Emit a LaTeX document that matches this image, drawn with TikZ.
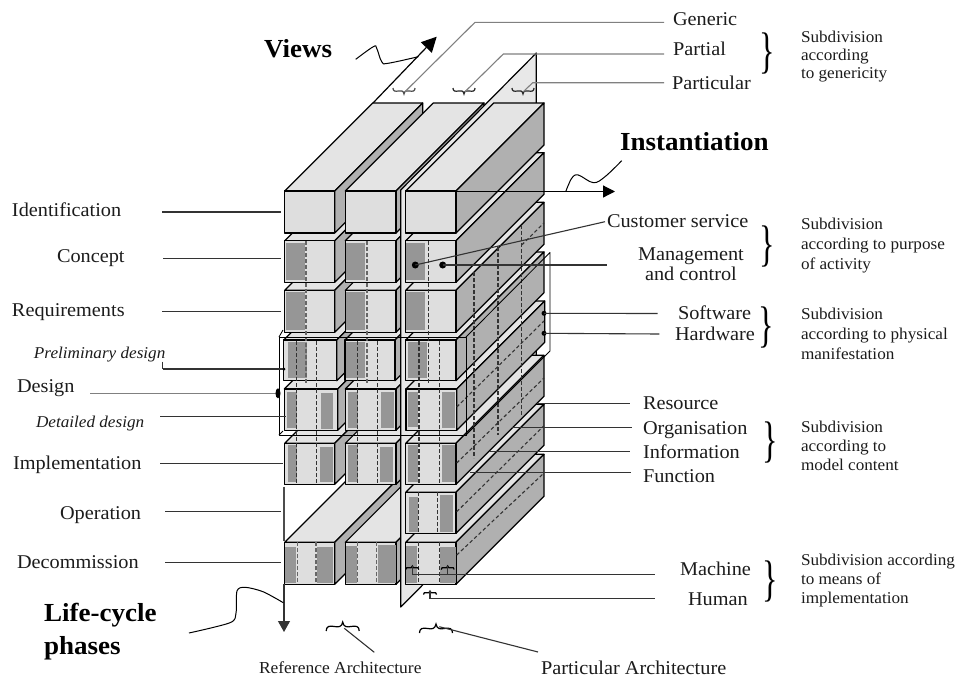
\documentclass[tikz,border=0pt]{standalone}
\usepackage{fontspec}
\usepackage{graphicx}
\setmainfont[FakeStretch=1.04]{Liberation Serif}
\usetikzlibrary{arrows.meta}
\definecolor{cfront}{HTML}{DEDEDE}
\definecolor{ctop}{HTML}{E4E4E4}
\definecolor{cside}{HTML}{B0B0B0}
\definecolor{cpanel}{HTML}{969696}
\definecolor{cplane}{HTML}{E8E8E8}
\definecolor{ctext}{HTML}{1C1C1C}
\tikzset{
  edge/.style={draw=black,line width=1.2pt,line join=round},
  thinedge/.style={draw=black,line width=0.85pt,line join=round},
  lead/.style={draw=black!80,line width=1.1pt},
  leadg/.style={draw=black!50,line width=1.1pt},
  dashline/.style={draw=black!80,line width=1.1pt,dash pattern=on 3.5pt off 2.5pt},
  lab/.style={anchor=base west,inner sep=0pt,outer sep=0pt,text=ctext,font=\fontsize{19.5}{22}\selectfont},
  ilab/.style={lab,font=\fontsize{16.5}{22}\selectfont\itshape},
  sml/.style={lab,font=\fontsize{16.5}{18}\selectfont},
  big/.style={lab,text=black,font=\fontsize{26}{30}\selectfont\bfseries},
  dot/.style={circle,fill=black,inner sep=0pt,minimum size=#1},
  brc/.style={inner sep=0pt,outer sep=0pt,text=black},
}
% block: x0, x1, y0, y1
\newcommand\blk[4]{%
  \path[edge,fill=ctop] (#1,#3) -- ({#1+88},{#3-88}) -- ({#2+88},{#3-88}) -- (#2,#3) -- cycle;
  \path[edge,fill=cside] (#2,#3) -- ({#2+88},{#3-88}) -- ({#2+88},{#4-88}) -- (#2,#4) -- cycle;
  \path[edge,fill=cfront] (#1,#3) rectangle (#2,#4);
}
\newcommand\pan[4]{\fill[cpanel] (#1,#3) rectangle (#2,#4);}
% small brace: cx, tip y, half-width, height (positive: ends below the tip), colour
\newcommand\hbr[5]{%
  \begin{scope}[shift={(#1,#2)},x=#3pt,y=#4pt]
  \draw[#5,line width=1.2pt] (-1,1) .. controls (-1,0.45) and (-0.8,0.4) .. (-0.5,0.5)
     .. controls (-0.25,0.6) and (-0.05,0.55) .. (0,0)
     .. controls (0.05,0.55) and (0.25,0.6) .. (0.5,0.5)
     .. controls (0.8,0.4) and (1,0.45) .. (1,1);
  \end{scope}}
\newcommand\leader[3]{\coordinate (#1a) at #2; \coordinate (#1b) at #3; \draw[lead] (#1a) -- (#1b);}
\newcommand\bigbrace[3]{\node[brc] (#1) at (#2,#3) {\scalebox{0.62}[1]{\fontsize{50}{50}\selectfont\}}};}
\begin{document}
\begin{tikzpicture}[x=1pt,y=-1pt,line width=1.2pt]
\useasboundingbox (0,0) rectangle (959,678);
\fill[white] (0,0) rectangle (959,678);

% column 1, lowest block first
\blk{284.7}{334.7}{542.3}{584.3}
\blk{284.7}{334.7}{443.3}{484.3}
\blk{284.3}{337.7}{389}{430.3}
\blk{283.7}{336.7}{340}{380.7}
\blk{284.7}{334.7}{290.3}{332.3}
\blk{284.7}{334.7}{240.7}{282.3}
\blk{284.7}{334.7}{191}{233}
% column 2
\blk{345.3}{396}{542.3}{584.3}
\blk{345.3}{396}{443.3}{484.3}
\blk{345.3}{396}{389}{430.3}
\blk{345}{395}{340}{380.7}
\blk{345.3}{396}{290.3}{332.3}
\blk{345.3}{396}{240.7}{282.3}
\blk{345.3}{396}{191}{233}
% vertical plane between the columns
\path[edge,fill=cplane] (400.7,607) -- (400.7,190) -- (536.3,53) -- (536.3,471) -- cycle;
% column 3
\blk{405.7}{456}{542.3}{584.3}
\blk{405.7}{456}{492.3}{533.3}
\blk{405.7}{456}{443.3}{484.3}
\blk{406}{456.7}{389}{430.3}
\blk{405.7}{456}{340}{380.7}
\blk{405.7}{456}{290.3}{332.3}
\blk{405.7}{456}{240.7}{282.3}
\blk{405.7}{456}{191}{233}

% dark panels on the front faces
\pan{285.7}{305}{242.7}{280.3}\pan{346.3}{365}{242.7}{280.3}\pan{406.3}{425}{242.7}{280.3}
\pan{285.7}{305}{292.3}{330.3}\pan{346.3}{365}{292.3}{330.3}\pan{406.3}{425}{292.3}{330.3}
\pan{288}{307}{341.7}{378}\pan{346}{365}{341.7}{378}\pan{407.7}{427.3}{341.7}{378}
\pan{286.7}{297.3}{391.7}{428}\pan{321}{333.3}{393}{429}
\pan{347.7}{357.7}{391.7}{428}\pan{381}{394.3}{391.7}{428}
\pan{407.7}{418.3}{391.7}{426.5}\pan{442}{455.3}{391.7}{428}
\pan{288}{296.7}{445}{481.7}\pan{320}{333.3}{447}{481.7}
\pan{347.7}{357.7}{445}{481.7}\pan{380}{393.3}{447}{481.7}
\pan{407.7}{418.3}{445}{481.7}\pan{442}{455.3}{445}{481.7}
\pan{409}{418.3}{497}{531.7}\pan{440}{453}{495}{531.7}
\pan{285}{296}{547}{582.7}\pan{317.3}{333.3}{547}{582.7}
\pan{345.7}{356.7}{546}{582.7}\pan{377.7}{395.7}{545}{582.7}
\pan{406}{417.3}{546}{582.7}\pan{440}{455.7}{547}{582.7}

% dashed divisions, fronts
\draw[dashline,draw=black!60] (306,241) -- (306,383);
\draw[dashline,draw=black!60] (367,241) -- (367,383);
\draw[dashline] (428.7,241) -- (428.7,383);
\draw[dashline] (296.7,341) -- (296.7,484);
\draw[dashline] (316.7,341) -- (316.7,484);
\draw[dashline] (357.3,341) -- (357.3,484);
\draw[dashline] (377.7,341) -- (377.7,484);
\draw[dashline] (419,341) -- (419,484);
\draw[dashline] (439.7,341) -- (439.7,484);
\draw[dashline] (418.3,492.3) -- (418.3,533.3);
\draw[dashline] (437.3,492.3) -- (437.3,533.3);
\draw[dashline,draw=black!60] (297.7,542.3) -- (297.7,584);
\draw[dashline,draw=black!60] (316,542.3) -- (316,584);
\draw[dashline,draw=black!60] (357.7,542.3) -- (357.7,584);
\draw[dashline,draw=black!60] (376.7,542.3) -- (376.7,584);
\draw[dashline] (418.3,542.3) -- (418.3,584);
\draw[dashline] (439.3,542.3) -- (439.3,584);
% dashed divisions, sides
\draw[dashline] (474,272) -- (474,458);
\draw[dashline] (498,247) -- (498,435);
\draw[dashline] (521.7,225) -- (521.7,415);
\draw[dashline] (521.7,245) -- (544,223);
\draw[dashline] (456.7,407) -- (544,321);
\draw[dashline] (456.7,463) -- (544,378);
\draw[dashline] (456.7,511.7) -- (544,425.7);
\draw[dashline] (456.7,555) -- (544,473);

% outline box round the design rows
\draw[thinedge] (279,337) rectangle (466,435);
\draw[thinedge] (466,337) -- (550,252.5) -- (550,351) -- (466,435);
\draw[thinedge] (279,337) -- (283,330);
\draw[thinedge] (279,435) -- (283,431);
\draw[edge,draw=black!70] (284,486.7) -- (284,541);

% axes
\coordinate (vs) at (373,103); \coordinate (ve) at (436.7,36.7);
\draw[edge,-{Triangle[length=15pt,width=15pt]}] (vs) -- (ve);
\coordinate (is) at (456,191.5); \coordinate (ie) at (615,191.5);
\draw[edge,-{Triangle[length=12pt,width=12pt]}] (is) -- (ie);
\coordinate (ls) at (284,584.3); \coordinate (le) at (284,632);
\draw[edge,draw=black!80,-{Triangle[length=11pt,width=12pt]}] (ls) -- (le);
\draw[black,line width=1pt] plot[smooth,tension=0.6] coordinates {(355.7,59.3) (373.3,46.7) (376.7,48.3) (381.7,61.7) (388,63.3) (418.3,56.7)};
\draw[black,line width=1pt] plot[smooth,tension=0.6] coordinates {(565.7,191.7) (571.7,178.3) (578.3,175) (593.3,182.7) (605,176.7) (621.7,160.7)};
\draw[black,line width=1pt] plot[smooth,tension=0.5] coordinates {(189,633) (230,622.7) (236,613) (237,591) (245,587.3) (263,591.7) (283.3,602.7)};

% small braces, top
\hbr{404}{94}{11}{6}{black!70}
\hbr{464}{94}{11}{6}{black!85}
\hbr{523}{94}{11}{6}{black!85}
% small braces, bottom
\hbr{342.7}{622}{16.5}{-9}{black}
\hbr{436}{624}{16.5}{-9}{black}
\hbr{412.3}{566}{6.5}{-3.5}{black}
\hbr{447.7}{566}{6.5}{-3.5}{black}
\hbr{430}{591}{6.5}{-3.5}{black}

% labels
\node[big] (tViews) at (264,57) {Views};
\node[big] (tInst) at (620,150) {Instantiation};
\node[big] (tLife) at (44,621) {Life-cycle};
\node[big] (tPhas) at (44,654) {phases};

\node[lab] (nId) at (12,216) {Identification};
\node[lab] (nCo) at (57,262.7) {Concept};
\node[lab] (nRe) at (12,316) {Requirements};
\node[ilab] (nPr) at (34,358) {Preliminary design};
\node[lab] (nDe) at (17,392.3) {Design};
\node[ilab] (nDd) at (36,427) {Detailed design};
\node[lab] (nIm) at (13,469.3) {Implementation};
\node[lab] (nOp) at (60,519) {Operation};
\node[lab] (nDc) at (17,568.3) {Decommission};

\node[lab] (nGe) at (673,25) {Generic};
\node[lab] (nPa) at (673,55) {Partial};
\node[lab] (nPu) at (672,89) {Particular};
\node[lab] (nCs) at (607,227.3) {Customer service};
\node[lab] (nMa) at (638,260.7) {Management};
\node[lab] (nAc) at (645,280) {and control};
\node[lab] (nSo) at (678,319) {Software};
\node[lab] (nHa) at (675,340) {Hardware};
\node[lab] (nRs) at (643,409.3) {Resource};
\node[lab] (nOr) at (643,434) {Organisation};
\node[lab] (nIn) at (643,458.3) {Information};
\node[lab] (nFu) at (643,482.7) {Function};
\node[lab] (nMc) at (680,575.7) {Machine};
\node[lab] (nHu) at (688,605) {Human};
\node[lab,font=\fontsize{16.8}{20}\selectfont] (nRa) at (259,673) {Reference Architecture};
\node[lab] (nPA) at (541,674) {Particular Architecture};

\node[sml] (s1a) at (801,42.7) {Subdivision};
\node[sml] (s1b) at (801,60) {according};
\node[sml] (s1c) at (801,78.3) {to genericity};
\node[sml] (s2a) at (801,229) {Subdivision};
\node[sml] (s2b) at (801,249) {according to purpose};
\node[sml] (s2c) at (801,269) {of activity};
\node[sml] (s3a) at (801,319) {Subdivision};
\node[sml] (s3b) at (801,339) {according to physical};
\node[sml] (s3c) at (801,359) {manifestation};
\node[sml] (s4a) at (801,432) {Subdivision};
\node[sml] (s4b) at (801,451) {according to};
\node[sml] (s4c) at (801,470) {model content};
\node[sml] (s5a) at (801,565) {Subdivision according};
\node[sml] (s5b) at (801,584) {to means of};
\node[sml] (s5c) at (801,603) {implementation};

\bigbrace{b1}{767}{53}
\bigbrace{b2}{767}{246}
\bigbrace{b3}{766}{327}
\bigbrace{b4}{770}{442}
\bigbrace{b5}{770}{581}

% leaders, left
\leader{l1}{(162,212)}{(281,212)}
\leader{l2}{(163,258.3)}{(281,258.3)}
\leader{l3}{(162,311.7)}{(281,311.7)}
\coordinate (l4t) at (162.7,361.7);
\leader{l4}{(162.7,369)}{(285,369)}
\draw[lead] (l4t) -- (l4a);
\node[dot=3pt] (d4) at (284,369) {};
\coordinate (l5a) at (90,393.3); \coordinate (l5b) at (278,393.3);
\draw[leadg] (l5a) -- (l5b);
\fill[black] (l5b) ellipse [x radius=2.5pt,y radius=5pt];
\leader{l6}{(160,416.7)}{(286,416.7)}
\leader{l7}{(160,463.3)}{(282.7,463.3)}
\leader{l8}{(165,511.7)}{(281,511.7)}
\leader{l9}{(165,562.7)}{(281,562.7)}

% leaders, top (grey)
\coordinate (g1) at (405,91.7); \coordinate (g1m) at (475,22.3); \coordinate (g1e) at (664,22.3);
\draw[leadg] (g1) -- (g1m) -- (g1e);
\coordinate (g2) at (465,91.7); \coordinate (g2m) at (503.3,54); \coordinate (g2e) at (664,54);
\draw[leadg] (g2) -- (g2m) -- (g2e);
\coordinate (g3) at (523.3,91.7); \coordinate (g3m) at (532.7,82.7); \coordinate (g3e) at (664,82.7);
\draw[leadg] (g3) -- (g3m) -- (g3e);

% leaders, right
\node[dot=7pt] (dCs) at (415.3,265) {};
\node[dot=7pt] (dMa) at (442.7,265) {};
\coordinate (eCs) at (605,221.7); \coordinate (eMa) at (606.7,265);
\draw[lead] (dCs.center) -- (eCs);
\draw[lead] (dMa.center) -- (eMa);
\node[dot=5pt] (dSo) at (544,313.3) {};
\node[dot=5pt] (dHa) at (544,333.3) {};
\coordinate (eSo) at (657.7,313.5); \coordinate (eHa) at (659.3,334);
\draw[lead] (dSo.center) -- (eSo);
\draw[lead] (dHa.center) -- (eHa);
\leader{r1}{(536.7,403.3)}{(630,403.3)}
\leader{r2}{(511.7,427.7)}{(632,427.7)}
\leader{r3}{(489,451.7)}{(630,451.7)}
\leader{r4}{(470,472.3)}{(631,472.3)}

% leaders, bottom
\coordinate (m0) at (412.3,566); \coordinate (m1) at (412.3,574.3);
\coordinate (m2) at (447.7,566); \coordinate (m3) at (447.7,574.3); \coordinate (m4) at (655,574.3);
\draw[lead] (m0) -- (m1) -- (m4); \draw[lead] (m2) -- (m3);
\coordinate (h0) at (430,591); \coordinate (h1) at (430,598.3); \coordinate (h2) at (655,598.3);
\draw[lead] (h0) -- (h1) -- (h2);
\leader{q1}{(344.3,628.3)}{(374.3,652.3)}
\leader{q2}{(439.3,626.7)}{(538,652)}
\end{tikzpicture}
\end{document}
